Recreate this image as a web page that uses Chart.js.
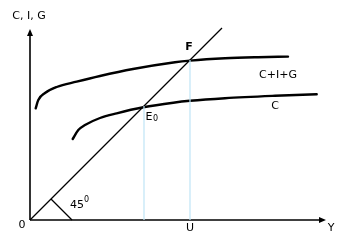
<!DOCTYPE html>
<html>
<head>
<meta charset="utf-8">
<script src="https://cdn.jsdelivr.net/npm/chart.js@4"></script>
<style>
  body { margin: 0; background: #fff; }
  #wrap { width: 350px; height: 250px; }
</style>
</head>
<body>
<div id="wrap"><canvas id="chart"></canvas></div>
<script>
// curve data (x = income Y, y = spending)
const cigX = [2.85, 4.15, 7.5, 13.35, 23.35, 35, 51.5, 72.5, 80, 97.5, 114, 129];
const cigY = [55.85, 60, 63.5, 66.5, 69.15, 72, 75.5, 78.9, 79.7, 80.85, 81.4, 81.7];
const cX = [21.35, 24.15, 27.5, 35, 43.35, 56.65, 71.65, 80, 97.5, 122.5, 143.35];
const cY = [40.5, 45, 47.5, 51, 53.35, 56.35, 58.65, 59.6, 60.9, 62.1, 62.85];
const lineEnd = 96;     // 45 degree line goes to (96, 96)
const pointF = [80, 80];
const pointE = [57, 57];
const xAxisMax = 146.5;
const yAxisMax = 94;

// text labels
const labelTexts = ["C, I, G", "Y", "0", "U", "F", "C+I+G", "C", "E"];
const labelX = [-0.5, 150.5, -4, 80, 79.5, 124, 122.5, 59.5];
const labelY = [102, -4, -2.5, -4, 86.5, 72.5, 57, 51.5];

function toPoints(xs, ys) {
  return xs.map(function (x, i) { return { x: x, y: ys[i] }; });
}

const blue = "#bfe4f6";

const extras = {
  id: "extras",
  afterDatasetsDraw: function (chart) {
    const ctx = chart.ctx;
    const xs = chart.scales.x;
    const ys = chart.scales.y;
    ctx.save();
    ctx.fillStyle = "#000";
    ctx.textAlign = "center";
    ctx.textBaseline = "middle";
    for (let i = 0; i < labelTexts.length; i++) {
      ctx.font = labelTexts[i] == "F" ? "bold 11px 'DejaVu Sans'" : "11px 'DejaVu Sans'";
      ctx.fillText(labelTexts[i], xs.getPixelForValue(labelX[i]), ys.getPixelForValue(labelY[i]));
    }
    // subscript of E0
    ctx.font = "8px 'DejaVu Sans'";
    ctx.fillText("0", xs.getPixelForValue(62.8), ys.getPixelForValue(50.6));
    // 45 with superscript
    ctx.font = "11px 'DejaVu Sans'";
    ctx.fillText("45", xs.getPixelForValue(23.5), ys.getPixelForValue(7.5));
    ctx.font = "8px 'DejaVu Sans'";
    ctx.fillText("0", xs.getPixelForValue(28.3), ys.getPixelForValue(10));

    // arrow heads
    const ox = xs.getPixelForValue(0);
    const oy = ys.getPixelForValue(0);
    const topY = ys.getPixelForValue(yAxisMax);
    const rightX = xs.getPixelForValue(xAxisMax);
    ctx.beginPath();
    ctx.moveTo(ox, topY - 3);
    ctx.lineTo(ox - 3, topY + 4);
    ctx.lineTo(ox + 3, topY + 4);
    ctx.closePath();
    ctx.fill();
    ctx.beginPath();
    ctx.moveTo(rightX + 3, oy);
    ctx.lineTo(rightX - 4, oy - 3);
    ctx.lineTo(rightX - 4, oy + 3);
    ctx.closePath();
    ctx.fill();
    ctx.restore();
  }
};

new Chart(document.getElementById("chart"), {
  type: "scatter",
  data: {
    datasets: [
      {
        // E0 drop line
        data: [{ x: pointE[0], y: 0 }, { x: pointE[0], y: pointE[1] }],
        showLine: true, borderColor: blue, borderWidth: 1.2, pointRadius: 0
      },
      {
        // F drop line
        data: [{ x: pointF[0], y: 0 }, { x: pointF[0], y: pointF[1] }],
        showLine: true, borderColor: blue, borderWidth: 1.2, pointRadius: 0
      },
      {
        // x axis
        data: [{ x: 0, y: 0 }, { x: xAxisMax, y: 0 }],
        showLine: true, borderColor: "#000", borderWidth: 1.6, pointRadius: 0
      },
      {
        // y axis
        data: [{ x: 0, y: 0 }, { x: 0, y: yAxisMax }],
        showLine: true, borderColor: "#000", borderWidth: 1.6, pointRadius: 0
      },
      {
        // 45 degree line
        data: [{ x: 0, y: 0 }, { x: lineEnd, y: lineEnd }],
        showLine: true, borderColor: "#000", borderWidth: 1.3, pointRadius: 0
      },
      {
        // angle mark
        data: [{ x: 10.5, y: 10.5 }, { x: 21, y: 0 }],
        showLine: true, borderColor: "#000", borderWidth: 1.3, pointRadius: 0
      },
      {
        label: "C+I+G",
        data: toPoints(cigX, cigY),
        showLine: true, borderColor: "#000", borderWidth: 2.4, pointRadius: 0,
        cubicInterpolationMode: "monotone", borderCapStyle: "round"
      },
      {
        label: "C",
        data: toPoints(cX, cY),
        showLine: true, borderColor: "#000", borderWidth: 2.4, pointRadius: 0,
        cubicInterpolationMode: "monotone", borderCapStyle: "round"
      }
    ]
  },
  options: {
    responsive: true,
    maintainAspectRatio: false,
    animation: false,
    clip: false,
    layout: { padding: { left: 30, right: 27, top: 28, bottom: 30 } },
    plugins: { legend: { display: false }, tooltip: { enabled: false } },
    scales: {
      x: { type: "linear", min: 0, max: xAxisMax, display: false },
      y: { type: "linear", min: 0, max: 96, display: false }
    }
  },
  plugins: [extras]
});
</script>
</body>
</html>
